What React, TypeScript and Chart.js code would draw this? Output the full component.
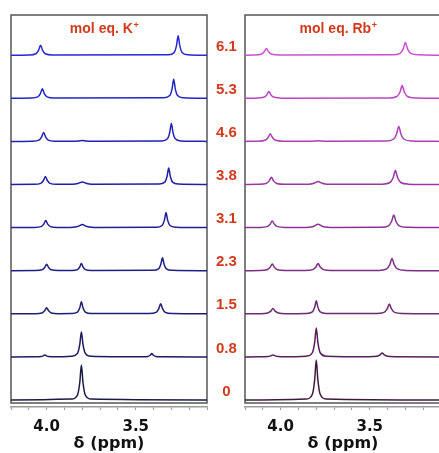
import React, { useEffect, useRef } from 'react';
import { Chart, registerables } from 'chart.js';

Chart.register(...registerables);

// ---- data ----
const PPM_MIN = 3.1;
const PPM_MAX = 4.2;
const PPM_STEP = 0.1;
const X_TICK_LABELS = [4.0, 3.5];
const EQ_LABELS = ['0', '0.8', '1.5', '2.3', '3.1', '3.8', '4.6', '5.3', '6.1'];

// K+ spectra, index 0 = 0 mol eq. Points: [ppm, intensity]
const K_0: number[][] = [[4.2,0],[3.86,0.9],[3.827,5],[3.814,17.5],[3.805,35],[3.796,17.5],[3.783,5],[3.75,0.9],[3.1,0]];
const K_08: number[][] = [[4.2,0],[4.065,0.05],[4.032,0.3],[4.019,1],[4.01,2],[4.001,1],[3.988,0.3],[3.955,0.05],
  [3.86,0.65],[3.827,3.6],[3.814,12.5],[3.805,25],[3.796,12.5],[3.783,3.6],[3.75,0.65],
  [3.465,0.1],[3.432,0.5],[3.419,1.65],[3.41,3.3],[3.401,1.65],[3.388,0.5],[3.355,0.1],[3.1,0]];
const K_15: number[][] = [[4.2,0],[4.065,0.16],[4.026,0.86],[4.011,3],[4.0,6],[3.989,3],[3.974,0.86],[3.935,0.16],
  [3.86,0.3],[3.827,1.7],[3.814,6],[3.805,12],[3.796,6],[3.783,1.7],[3.75,0.3],
  [3.425,0.26],[3.386,1.43],[3.371,5],[3.36,10],[3.349,5],[3.334,1.43],[3.295,0.26],[3.1,0]];
const K_23: number[][] = [[4.2,0],[4.065,0.17],[4.026,0.93],[4.011,3.25],[4.0,6.5],[3.989,3.25],[3.974,0.93],[3.935,0.17],
  [3.86,0.2],[3.827,1.07],[3.814,3.75],[3.805,7.5],[3.796,3.75],[3.783,1.07],[3.75,0.2],
  [3.405,0.34],[3.372,1.86],[3.359,6.5],[3.35,13],[3.341,6.5],[3.328,1.86],[3.295,0.34],[3.1,0]];
const K_31: number[][] = [[4.2,0],[4.07,0.18],[4.031,1],[4.016,3.5],[4.005,7],[3.994,3.5],[3.979,1],[3.94,0.18],
  [3.87,0.2],[3.84,0.5],[3.82,1.5],[3.8,3],[3.78,1.5],[3.76,0.5],[3.73,0.2],
  [3.385,0.39],[3.352,2.1],[3.339,7.5],[3.33,15],[3.321,7.5],[3.308,2.1],[3.275,0.39],[3.1,0]];
const K_38: number[][] = [[4.2,0],[4.072,0.2],[4.033,1.14],[4.018,4],[4.007,8],[3.996,4],[3.981,1.14],[3.942,0.2],
  [3.87,0.15],[3.84,0.4],[3.82,1.25],[3.8,2.5],[3.78,1.25],[3.76,0.4],[3.73,0.15],
  [3.37,0.43],[3.337,2.36],[3.324,8.25],[3.315,16.5],[3.306,8.25],[3.293,2.36],[3.26,0.43],[3.1,0]];
const K_46: number[][] = [[4.2,0],[4.082,0.23],[4.043,1.29],[4.028,4.5],[4.017,9],[4.006,4.5],[3.991,1.29],[3.952,0.23],
  [3.86,0.1],[3.82,0.4],[3.8,0.8],[3.78,0.4],[3.74,0.1],
  [3.355,0.47],[3.322,2.57],[3.309,9],[3.3,18],[3.291,9],[3.278,2.57],[3.245,0.47],[3.1,0]];
const K_53: number[][] = [[4.2,0],[4.089,0.25],[4.05,1.36],[4.035,4.75],[4.024,9.5],[4.013,4.75],[3.998,1.36],[3.959,0.25],
  [3.342,0.49],[3.309,2.72],[3.296,9.5],[3.287,19],[3.278,9.5],[3.265,2.72],[3.232,0.49],[3.1,0]];
const K_61: number[][] = [[4.2,0],[4.099,0.26],[4.06,1.43],[4.045,5],[4.034,10],[4.023,5],[4.008,1.43],[3.969,0.26],
  [3.317,0.5],[3.284,2.79],[3.271,9.75],[3.262,19.5],[3.253,9.75],[3.24,2.79],[3.207,0.5],[3.1,0]];

// Rb+ spectra, index 0 = 0 mol eq.
const RB_0: number[][] = [[4.2,0],[3.855,1.05],[3.822,5.7],[3.809,20],[3.8,40],[3.791,20],[3.778,5.7],[3.745,1.05],[3.1,0]];
const RB_08: number[][] = [[4.2,0],[4.116,0.05],[4.073,0.3],[4.055,1],[4.043,2],[4.031,1],[4.013,0.3],[3.97,0.05],
  [3.855,0.75],[3.822,4.15],[3.809,14.5],[3.8,29],[3.791,14.5],[3.778,4.15],[3.745,0.75],
  [3.503,0.1],[3.46,0.57],[3.442,2],[3.43,4],[3.418,2],[3.4,0.57],[3.357,0.1],[3.1,0]];
const RB_15: number[][] = [[4.2,0],[4.116,0.14],[4.073,0.76],[4.055,2.65],[4.043,5.3],[4.031,2.65],[4.013,0.76],[3.97,0.14],
  [3.855,0.34],[3.822,1.86],[3.809,6.5],[3.8,13],[3.791,6.5],[3.778,1.86],[3.745,0.34],
  [3.463,0.25],[3.42,1.39],[3.402,4.85],[3.39,9.7],[3.378,4.85],[3.36,1.39],[3.317,0.25],[3.1,0]];
const RB_23: number[][] = [[4.2,0],[4.12,0.17],[4.077,0.96],[4.059,3.35],[4.047,6.7],[4.035,3.35],[4.017,0.96],[3.974,0.17],
  [3.863,0.19],[3.82,1.04],[3.802,3.65],[3.79,7.3],[3.778,3.65],[3.76,1.04],[3.717,0.19],
  [3.448,0.32],[3.405,1.76],[3.387,6.15],[3.375,12.3],[3.363,6.15],[3.345,1.76],[3.302,0.32],[3.1,0]];
const RB_31: number[][] = [[4.2,0],[4.12,0.17],[4.077,0.96],[4.059,3.35],[4.047,6.7],[4.035,3.35],[4.017,0.96],[3.974,0.17],
  [3.86,0.2],[3.83,0.55],[3.81,1.65],[3.79,3.3],[3.77,1.65],[3.75,0.55],[3.72,0.2],
  [3.438,0.33],[3.395,1.82],[3.377,6.35],[3.365,12.7],[3.353,6.35],[3.335,1.82],[3.292,0.33],[3.1,0]];
const RB_38: number[][] = [[4.2,0],[4.125,0.19],[4.082,1.04],[4.064,3.65],[4.052,7.3],[4.04,3.65],[4.022,1.04],[3.979,0.19],
  [3.86,0.2],[3.83,0.5],[3.81,1.5],[3.79,3],[3.77,1.5],[3.75,0.5],[3.72,0.2],
  [3.429,0.36],[3.386,2],[3.368,7],[3.356,14],[3.344,7],[3.326,2],[3.283,0.36],[3.1,0]];
const RB_46: number[][] = [[4.2,0],[4.131,0.2],[4.088,1.1],[4.07,3.85],[4.058,7.7],[4.046,3.85],[4.028,1.1],[3.985,0.2],
  [3.85,0.1],[3.81,0.3],[3.79,0.6],[3.77,0.3],[3.73,0.1],
  [3.41,0.39],[3.367,2.15],[3.349,7.5],[3.337,15],[3.325,7.5],[3.307,2.15],[3.264,0.39],[3.1,0]];
const RB_53: number[][] = [[4.2,0],[4.139,0.17],[4.096,0.96],[4.078,3.35],[4.066,6.7],[4.054,3.35],[4.036,0.96],[3.993,0.17],
  [3.391,0.33],[3.348,1.82],[3.33,6.35],[3.318,12.7],[3.306,6.35],[3.288,1.82],[3.245,0.33],[3.1,0]];
const RB_61: number[][] = [[4.2,0],[4.153,0.17],[4.11,0.96],[4.092,3.35],[4.08,6.7],[4.068,3.35],[4.05,0.96],[4.007,0.17],
  [3.373,0.33],[3.33,1.82],[3.312,6.35],[3.3,12.7],[3.288,6.35],[3.27,1.82],[3.227,0.33],[3.1,0]];

const K_SPECTRA = [K_0, K_08, K_15, K_23, K_31, K_38, K_46, K_53, K_61];
const RB_SPECTRA = [RB_0, RB_08, RB_15, RB_23, RB_31, RB_38, RB_46, RB_53, RB_61];

const K_COLORS = ['#1a1a46', '#1c1c5e', '#1e1e74', '#1e1e86', '#1f1f96', '#1f20a6', '#2022b6', '#2226c6', '#2629d6'];
const RB_COLORS = ['#3d1a3d', '#55205a', '#6c2a70', '#7c2e82', '#8a3392', '#9a38a2', '#aa3eb2', '#bc45c4', '#cc4ed2'];

// ---- layout / style constants ----
const ROW_STEP = 43.1;
const LABEL_LIFT = 8.5;
const Y_MIN = -7;
const Y_MAX = 385;
const RED = '#d33a1c';

function framePlugin(titleMain: string, titleSup: string) {
  return {
    id: 'frame',
    beforeDatasetsDraw(chart: any) {
      const { ctx, chartArea: a } = chart;
      ctx.save();
      ctx.strokeStyle = '#555';
      ctx.lineWidth = 1.5;
      ctx.strokeRect(a.left, a.top, a.right - a.left, a.bottom - a.top - 4);
      const mainFont = 'bold 14px "Liberation Sans", Arial, sans-serif';
      const supFont = 'bold 9px "Liberation Sans", Arial, sans-serif';
      ctx.font = mainFont;
      const w1 = ctx.measureText(titleMain).width;
      ctx.font = supFont;
      const w2 = ctx.measureText(titleSup).width;
      const cx = a.left + 93;
      const x0 = cx - (w1 + w2) / 2;
      const by = a.top + 18;
      ctx.fillStyle = RED;
      ctx.textBaseline = 'alphabetic';
      ctx.textAlign = 'left';
      ctx.font = mainFont;
      ctx.fillText(titleMain, x0, by);
      ctx.font = supFont;
      ctx.fillText(titleSup, x0 + w1 + 0.5, by - 5);
      ctx.restore();
    },
  };
}

type PanelProps = {
  spectra: number[][][];
  colors: string[];
  titleMain: string;
  titleSup: string;
  showEq: boolean;
  left: number;
  width: number;
  padLeft: number;
  padRight: number;
};

function Panel(p: PanelProps) {
  const ref = useRef<HTMLCanvasElement | null>(null);
  useEffect(() => {
    if (!ref.current) return;
    const datasets = p.spectra.map((pts, i) => ({
      data: pts.map(([x, y]) => ({ x, y: y + i * ROW_STEP })),
      borderColor: p.colors[i],
      borderWidth: 1.5,
      pointRadius: 0,
      fill: false,
      cubicInterpolationMode: 'monotone' as const,
    }));
    const chart = new Chart(ref.current, {
      type: 'line',
      data: { datasets },
      options: {
        responsive: false,
        animation: false,
        layout: { padding: { left: p.padLeft, right: p.padRight, top: 15, bottom: 0 } },
        plugins: { legend: { display: false }, tooltip: { enabled: false }, title: { display: false } },
        scales: {
          x: {
            type: 'linear',
            reverse: true,
            min: PPM_MIN,
            max: PPM_MAX,
            position: 'bottom',
            afterFit: (s: any) => { s.height = 46; },
            ticks: {
              stepSize: PPM_STEP,
              autoSkip: false,
              maxRotation: 0,
              padding: 8,
              color: '#111',
              font: { family: '"DejaVu Sans", sans-serif', size: 15, weight: 'bold' },
              callback: (v: any) => {
                const t = X_TICK_LABELS.find((l) => Math.abs(l - Number(v)) < 1e-6);
                return t !== undefined ? t.toFixed(1) : '';
              },
            },
            grid: { drawOnChartArea: false, drawTicks: true, tickLength: 3, color: '#9a9a9a', lineWidth: 1 },
            border: { display: true, color: '#9a9a9a', width: 1.5 },
            title: {
              display: true,
              text: 'δ (ppm)',
              color: '#111',
              font: { family: '"DejaVu Sans", sans-serif', size: 16, weight: 'bold' },
              padding: { top: 0, bottom: 0 },
            },
          },
          y: {
            type: 'linear',
            min: Y_MIN,
            max: Y_MAX,
            position: 'right',
            display: p.showEq,
            afterFit: (s: any) => {
              s.width = p.showEq ? 38 : 0;
              s.paddingTop = 0;
              s.paddingBottom = 0;
            },
            afterBuildTicks: (s: any) => {
              s.ticks = EQ_LABELS.map((_, i) => ({ value: i * ROW_STEP + LABEL_LIFT }));
            },
            ticks: {
              autoSkip: false,
              crossAlign: 'center',
              padding: 9,
              color: RED,
              font: { family: '"Liberation Sans", Arial, sans-serif', size: 15, weight: 'bold' },
              callback: (_v: any, i: number) => EQ_LABELS[i],
            },
            grid: { display: false, drawTicks: false },
            border: { display: false },
          },
        },
      } as any,
      plugins: [framePlugin(p.titleMain, p.titleSup)],
    });
    return () => chart.destroy();
  }, []);
  return (
    <canvas
      ref={ref}
      width={p.width}
      height={453}
      style={{ position: 'absolute', left: p.left, top: 0, width: p.width, height: 453 }}
    />
  );
}

export default function App() {
  return (
    <div style={{ position: 'fixed', left: 0, top: 0, width: 439, height: 453, overflow: 'hidden', background: '#fff' }}>
      <Panel spectra={K_SPECTRA} colors={K_COLORS} titleMain="mol eq. K" titleSup="+" showEq={true}
        left={0} width={245} padLeft={11} padRight={0} />
      <Panel spectra={RB_SPECTRA} colors={RB_COLORS} titleMain="mol eq. Rb" titleSup="+" showEq={false}
        left={234} width={226} padLeft={11} padRight={19} />
    </div>
  );
}
